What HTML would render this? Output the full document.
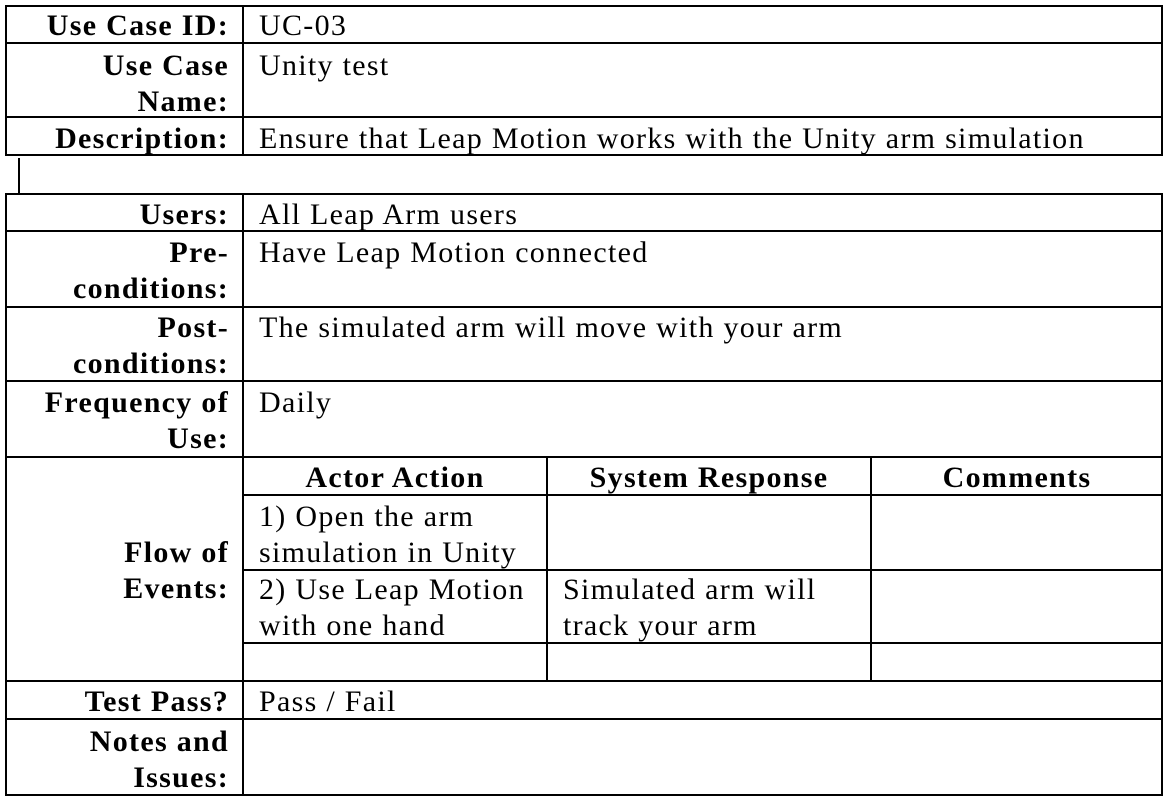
<!DOCTYPE html>
<html><head><meta charset="utf-8"><style>
body{margin:0;width:1168px;height:800px;background:#fff;position:relative;overflow:hidden;font-family:"Liberation Serif",serif;font-size:30px;color:#000}
.h{position:absolute;height:2px;background:#000}
.v{position:absolute;width:2px;background:#000}
.t{position:absolute;line-height:36px;white-space:nowrap;letter-spacing:1.3px;margin-top:2px}
.l{right:939px;text-align:right;font-weight:bold;letter-spacing:1.3px}
.b{font-weight:bold}
</style></head><body>
<div class="h" style="left:5px;top:5px;width:1158px"></div>
<div class="h" style="left:5px;top:42px;width:1158px"></div>
<div class="h" style="left:5px;top:116px;width:1158px"></div>
<div class="h" style="left:5px;top:154px;width:1158px"></div>
<div class="v" style="left:5px;top:5px;height:151px"></div>
<div class="v" style="left:242px;top:5px;height:151px"></div>
<div class="v" style="left:1161px;top:5px;height:151px"></div>
<div class="v" style="left:18px;top:158px;height:35px"></div>
<div class="h" style="left:5px;top:193px;width:1158px"></div>
<div class="h" style="left:5px;top:230px;width:1158px"></div>
<div class="h" style="left:5px;top:306px;width:1158px"></div>
<div class="h" style="left:5px;top:380px;width:1158px"></div>
<div class="h" style="left:5px;top:456px;width:1158px"></div>
<div class="h" style="left:242px;top:494px;width:921px"></div>
<div class="h" style="left:242px;top:569px;width:921px"></div>
<div class="h" style="left:242px;top:642px;width:921px"></div>
<div class="h" style="left:5px;top:680px;width:1158px"></div>
<div class="h" style="left:5px;top:718px;width:1158px"></div>
<div class="h" style="left:5px;top:794px;width:1158px"></div>
<div class="v" style="left:5px;top:193px;height:603px"></div>
<div class="v" style="left:242px;top:193px;height:603px"></div>
<div class="v" style="left:1161px;top:193px;height:603px"></div>
<div class="v" style="left:546px;top:456px;height:226px"></div>
<div class="v" style="left:870px;top:456px;height:226px"></div>

<div class="t l" style="top:6px">Use Case ID:</div>
<div class="t" style="left:259px;top:6px">UC-03</div>
<div class="t l" style="top:46px">Use Case<br>Name:</div>
<div class="t" style="left:259px;top:46px">Unity test</div>
<div class="t l" style="top:119px">Description:</div>
<div class="t" style="left:259px;top:119px">Ensure that Leap Motion works with the Unity arm simulation</div>

<div class="t l" style="top:195px">Users:</div>
<div class="t" style="left:259px;top:195px">All Leap Arm users</div>
<div class="t l" style="top:233px">Pre-<br>conditions:</div>
<div class="t" style="left:259px;top:233px">Have Leap Motion connected</div>
<div class="t l" style="top:308px">Post-<br>conditions:</div>
<div class="t" style="left:259px;top:308px">The simulated arm will move with your arm</div>
<div class="t l" style="top:383px">Frequency of<br>Use:</div>
<div class="t" style="left:259px;top:383px">Daily</div>
<div class="t l" style="top:533px">Flow of<br>Events:</div>
<div class="t b" style="left:244px;width:302px;text-align:center;top:458px">Actor Action</div>
<div class="t b" style="left:548px;width:322px;text-align:center;top:458px">System Response</div>
<div class="t b" style="left:872px;width:290px;text-align:center;top:458px">Comments</div>
<div class="t" style="left:259px;top:497px">1) Open the arm<br>simulation in Unity</div>
<div class="t" style="left:259px;top:570px">2) Use Leap Motion<br>with one hand</div>
<div class="t" style="left:563px;top:570px">Simulated arm will<br>track your arm</div>
<div class="t l" style="top:682px">Test Pass?</div>
<div class="t" style="left:259px;top:682px">Pass / Fail</div>
<div class="t l" style="top:722px">Notes and<br>Issues:</div>
</body></html>
